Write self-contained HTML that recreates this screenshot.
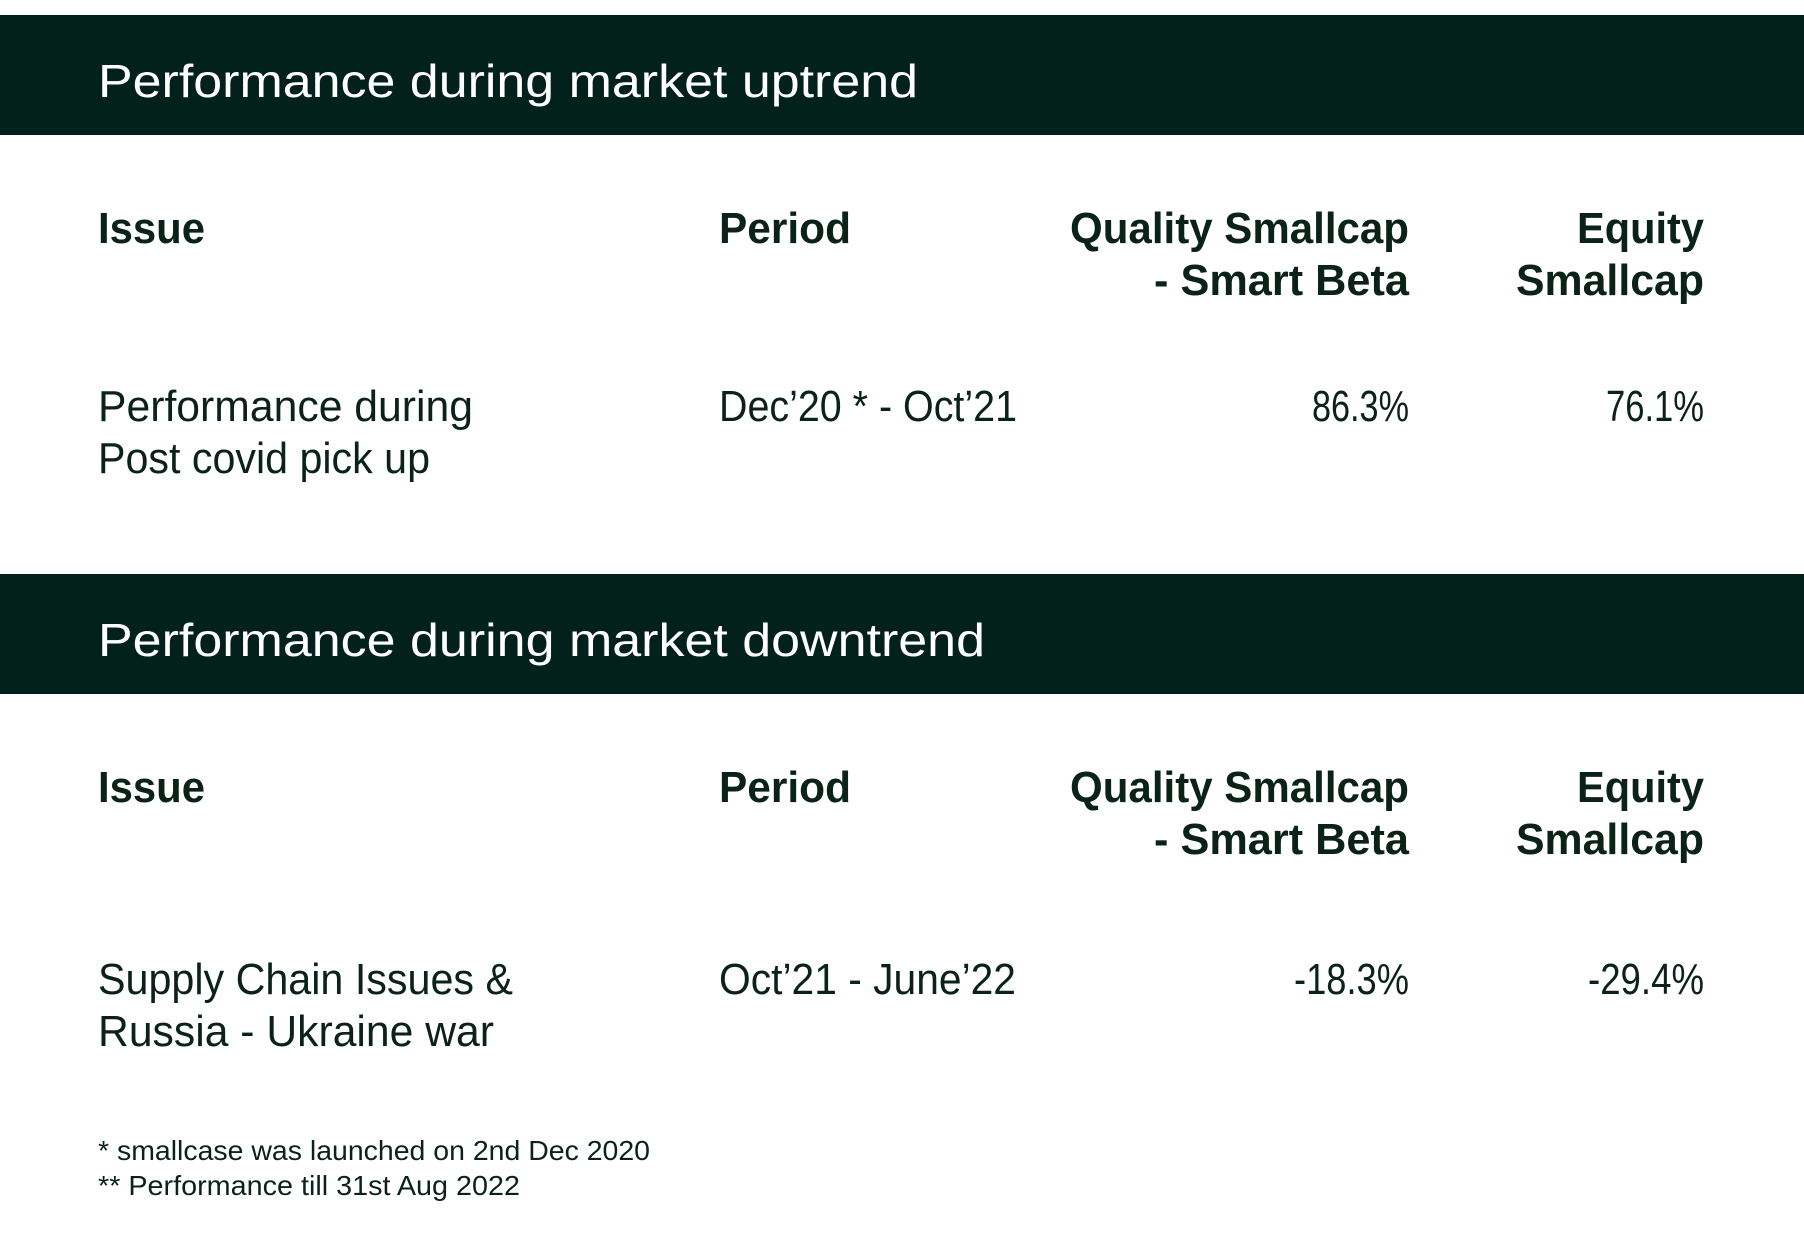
<!DOCTYPE html>
<html><head><meta charset="utf-8"><style>
html,body{margin:0;padding:0;background:#fff;}
svg{display:block;}
text{font-family:"Liberation Sans",sans-serif;fill:#0b2219;}
.t{fill:#fff;font-size:46px;}
.h{font-weight:bold;font-size:44px;}
.d{font-size:44px;}
.f{font-size:28px;}
</style></head><body>
<svg width="1804" height="1253" viewBox="0 0 1804 1253">
<rect x="0" y="15" width="1804" height="120" fill="#02211a"/>
<text class="t" x="98" y="97" textLength="820" lengthAdjust="spacingAndGlyphs">Performance during market uptrend</text>
<g>
<text class="h" x="98" y="243" textLength="107" lengthAdjust="spacingAndGlyphs">Issue</text>
<text class="h" x="719" y="243" textLength="132" lengthAdjust="spacingAndGlyphs">Period</text>
<text class="h" x="1070" y="243" textLength="339" lengthAdjust="spacingAndGlyphs">Quality Smallcap</text>
<text class="h" x="1154" y="295" textLength="255" lengthAdjust="spacingAndGlyphs">- Smart Beta</text>
<text class="h" x="1577" y="243" textLength="127" lengthAdjust="spacingAndGlyphs">Equity</text>
<text class="h" x="1516" y="295" textLength="188" lengthAdjust="spacingAndGlyphs">Smallcap</text>
</g>
<g>
<text class="d" x="98" y="421" textLength="375" lengthAdjust="spacingAndGlyphs">Performance during</text>
<text class="d" x="98" y="473" textLength="332" lengthAdjust="spacingAndGlyphs">Post covid pick up</text>
<text class="d" x="719" y="421" textLength="298" lengthAdjust="spacingAndGlyphs">Dec’20 * - Oct’21</text>
<text class="d" x="1312" y="421" textLength="97" lengthAdjust="spacingAndGlyphs">86.3%</text>
<text class="d" x="1606" y="421" textLength="98" lengthAdjust="spacingAndGlyphs">76.1%</text>
</g>
<rect x="0" y="574" width="1804" height="120" fill="#02211a"/>
<text class="t" x="98" y="656" textLength="887" lengthAdjust="spacingAndGlyphs">Performance during market downtrend</text>
<g>
<text class="h" x="98" y="802" textLength="107" lengthAdjust="spacingAndGlyphs">Issue</text>
<text class="h" x="719" y="802" textLength="132" lengthAdjust="spacingAndGlyphs">Period</text>
<text class="h" x="1070" y="802" textLength="339" lengthAdjust="spacingAndGlyphs">Quality Smallcap</text>
<text class="h" x="1154" y="854" textLength="255" lengthAdjust="spacingAndGlyphs">- Smart Beta</text>
<text class="h" x="1577" y="802" textLength="127" lengthAdjust="spacingAndGlyphs">Equity</text>
<text class="h" x="1516" y="854" textLength="188" lengthAdjust="spacingAndGlyphs">Smallcap</text>
</g>
<g>
<text class="d" x="98" y="994" textLength="415" lengthAdjust="spacingAndGlyphs">Supply Chain Issues &amp;</text>
<text class="d" x="98" y="1046" textLength="396" lengthAdjust="spacingAndGlyphs">Russia - Ukraine war</text>
<text class="d" x="719" y="994" textLength="297" lengthAdjust="spacingAndGlyphs">Oct’21 - June’22</text>
<text class="d" x="1294" y="994" textLength="115" lengthAdjust="spacingAndGlyphs">-18.3%</text>
<text class="d" x="1588" y="994" textLength="116" lengthAdjust="spacingAndGlyphs">-29.4%</text>
</g>
<text class="f" x="98" y="1160" textLength="552" lengthAdjust="spacingAndGlyphs">* smallcase was launched on 2nd Dec 2020</text>
<text class="f" x="98" y="1195" textLength="422" lengthAdjust="spacingAndGlyphs">** Performance till 31st Aug 2022</text>
</svg>
</body></html>
